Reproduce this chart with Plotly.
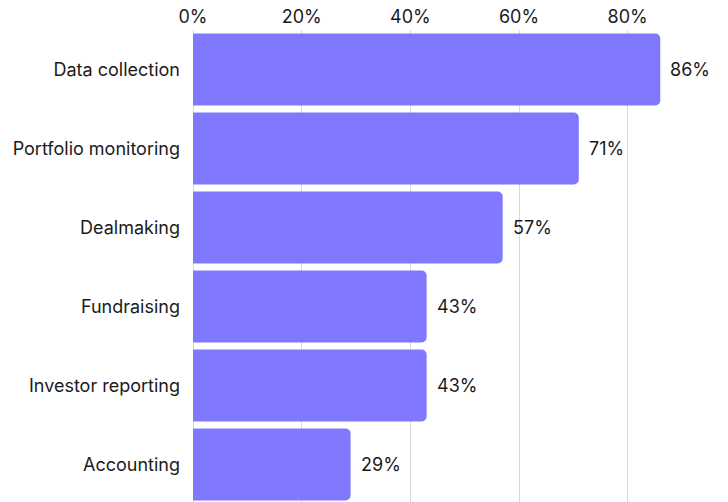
import plotly.graph_objects as go

categories = ["Data collection", "Portfolio monitoring", "Dealmaking",
              "Fundraising", "Investor reporting", "Accounting"]
values = [86, 71, 57, 43, 43, 29]
tick_vals = [0, 20, 40, 60, 80]
tick_text = ["0%", "20%", "40%", "60%", "80%"]

BAR_COLOR = "#8078FE"
TEXT_COLOR = "#1b1b1b"
FONT = "Inter, Roboto, sans-serif"
FONT_SIZE = 18

fig = go.Figure(go.Bar(
    y=list(range(len(categories))),
    x=values,
    orientation="h",
    width=0.91,
    marker=dict(color=BAR_COLOR, line=dict(width=0)),
    hoverinfo="skip",
))

for i, v in enumerate(values):
    fig.add_annotation(x=v, y=i, text=f"{v}%", showarrow=False,
                       xanchor="left", xshift=8,
                       font=dict(family=FONT, size=FONT_SIZE, color=TEXT_COLOR))

fig.update_layout(
    width=728, height=502,
    margin=dict(l=193, r=46, t=30, b=0),
    paper_bgcolor="white", plot_bgcolor="white",
    barcornerradius=5,
    showlegend=False,
    font=dict(family=FONT, size=FONT_SIZE, color=TEXT_COLOR),
    xaxis=dict(
        side="top", range=[0, 90],
        tickvals=tick_vals, ticktext=tick_text,
        showgrid=True, gridcolor="#d9d9d9", gridwidth=1,
        zeroline=True, zerolinecolor="#d9d9d9", zerolinewidth=1,
        showline=False, ticks="", ticklabelstandoff=2,
        tickfont=dict(family=FONT, size=FONT_SIZE, color=TEXT_COLOR),
    ),
    yaxis=dict(
        range=[5.475, -0.5],
        tickvals=list(range(len(categories))), ticktext=categories,
        showgrid=False, showline=False, zeroline=False, ticks="",
        ticklabelstandoff=12,
        tickfont=dict(family=FONT, size=FONT_SIZE, color=TEXT_COLOR),
    ),
)

fig.write_html("out.html")
